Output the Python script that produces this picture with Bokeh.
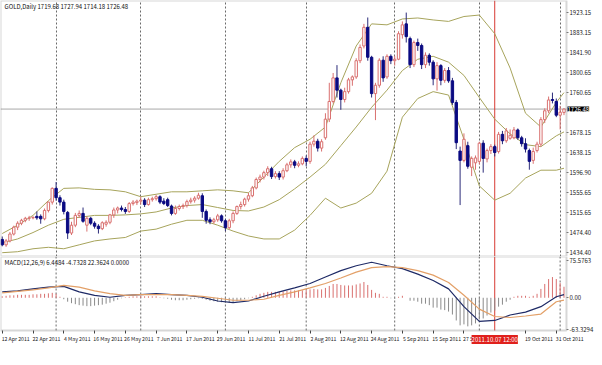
from bokeh.plotting import figure
from bokeh.layouts import column
from bokeh.models import Range1d, FixedTicker, ColumnDataSource, Label, BoxAnnotation
from bokeh.embed import file_html
from bokeh.resources import INLINE

# ---------------- data ----------------
opens = [1461, 1450, 1458, 1472, 1486, 1494, 1500, 1504, 1505, 1508, 1508, 1503, 1520, 1537, 1565, 1546, 1537, 1516, 1474, 1490,
         1510, 1514, 1490, 1504, 1494, 1488, 1483, 1492, 1496, 1511, 1521, 1525, 1522, 1518, 1534, 1536, 1539, 1541, 1532, 1542,
         1544, 1548, 1539, 1542, 1529, 1514, 1524, 1528, 1530, 1538, 1541, 1545, 1550, 1518, 1501, 1497, 1501, 1509, 1499, 1485,
         1499, 1514, 1528, 1532, 1543, 1550, 1566, 1583, 1588, 1597, 1605, 1589, 1595, 1588, 1601, 1613, 1619, 1612, 1615, 1626,
         1620, 1655, 1661, 1647, 1668, 1706, 1742, 1790, 1765, 1746, 1762, 1786, 1792, 1825, 1855, 1893, 1832, 1758, 1775, 1826,
         1792, 1834, 1825, 1828, 1878, 1900, 1870, 1817, 1862, 1856, 1817, 1836, 1822, 1788, 1815, 1785, 1805, 1784, 1740, 1641,
         1622, 1652, 1608, 1617, 1620, 1657, 1625, 1642, 1650, 1640, 1675, 1662, 1667, 1668, 1684, 1668, 1656, 1642, 1622, 1642,
         1655, 1705, 1723, 1746, 1742, 1714, 1719.68]
highs = [1467, 1462, 1476, 1489, 1498, 1503, 1507, 1509, 1508, 1518, 1512, 1524, 1538, 1567, 1578, 1551, 1542, 1519, 1497, 1515,
         1520, 1526, 1508, 1507, 1498, 1492, 1498, 1500, 1513, 1526, 1528, 1530, 1527, 1537, 1541, 1542, 1548, 1545, 1546, 1548,
         1552, 1551, 1545, 1546, 1532, 1530, 1532, 1534, 1542, 1546, 1549, 1556, 1555, 1522, 1506, 1505, 1513, 1512, 1503, 1503,
         1518, 1530, 1538, 1546, 1556, 1570, 1587, 1593, 1601, 1610, 1609, 1600, 1600, 1606, 1617, 1624, 1623, 1620, 1630, 1632,
         1660, 1673, 1666, 1665, 1718, 1780, 1800, 1816, 1768, 1770, 1790, 1795, 1830, 1858, 1900, 1913, 1835, 1780, 1830, 1834,
         1838, 1838, 1835, 1885, 1905, 1923, 1874, 1866, 1870, 1860, 1842, 1840, 1826, 1822, 1818, 1810, 1812, 1790, 1745, 1650,
         1677, 1660, 1630, 1632, 1660, 1663, 1646, 1655, 1654, 1680, 1682, 1688, 1685, 1690, 1687, 1672, 1667, 1646, 1648, 1660,
         1710, 1728, 1752, 1760, 1748, 1733, 1727.94]
lows = [1447, 1446, 1455, 1469, 1480, 1490, 1496, 1499, 1502, 1501, 1493, 1500, 1516, 1532, 1540, 1530, 1512, 1462, 1470, 1486,
        1505, 1495, 1477, 1490, 1483, 1473, 1480, 1487, 1492, 1505, 1514, 1518, 1513, 1515, 1530, 1531, 1532, 1527, 1530, 1538,
        1540, 1533, 1531, 1527, 1510, 1511, 1520, 1523, 1526, 1534, 1536, 1542, 1505, 1493, 1492, 1493, 1497, 1495, 1478, 1482,
        1494, 1511, 1522, 1528, 1538, 1547, 1563, 1577, 1583, 1590, 1584, 1585, 1582, 1583, 1598, 1607, 1606, 1608, 1612, 1610,
        1615, 1650, 1640, 1640, 1664, 1700, 1738, 1750, 1725, 1740, 1758, 1774, 1788, 1820, 1850, 1825, 1750, 1704, 1770, 1782,
        1788, 1818, 1815, 1826, 1870, 1862, 1810, 1812, 1845, 1808, 1810, 1815, 1775, 1764, 1775, 1780, 1780, 1735, 1645, 1531,
        1618, 1605, 1590, 1603, 1614, 1597, 1618, 1635, 1630, 1636, 1655, 1658, 1664, 1665, 1664, 1650, 1638, 1603, 1615, 1638,
        1650, 1698, 1718, 1738, 1710, 1685, 1714.18]
closes = [1450, 1458, 1472, 1486, 1494, 1500, 1504, 1505, 1506, 1505, 1503, 1520, 1537, 1565, 1546, 1537, 1518, 1474, 1490, 1510,
          1514, 1498, 1504, 1494, 1488, 1483, 1495, 1496, 1511, 1521, 1525, 1522, 1518, 1534, 1537, 1539, 1541, 1532, 1542, 1544,
          1548, 1537, 1534, 1530, 1514, 1524, 1528, 1530, 1538, 1541, 1545, 1551, 1518, 1500, 1497, 1501, 1509, 1499, 1485, 1499,
          1514, 1528, 1532, 1543, 1550, 1566, 1583, 1588, 1597, 1605, 1589, 1595, 1588, 1601, 1613, 1619, 1612, 1615, 1626, 1620,
          1655, 1661, 1647, 1660, 1706, 1742, 1790, 1765, 1746, 1762, 1786, 1792, 1825, 1852, 1893, 1832, 1758, 1775, 1826, 1790,
          1834, 1825, 1828, 1880, 1898, 1874, 1817, 1862, 1856, 1817, 1836, 1822, 1788, 1815, 1785, 1805, 1784, 1740, 1658, 1622,
          1665, 1610, 1626, 1627, 1657, 1626, 1642, 1650, 1638, 1675, 1662, 1682, 1673, 1684, 1668, 1656, 1645, 1620, 1640, 1655,
          1705, 1723, 1745, 1744, 1714, 1720, 1726.48]

# Bollinger bands (20,2) read every 4th bar
band_bar = [0, 4, 8, 12, 16, 20, 24, 28, 32, 36, 40, 44, 48, 52, 56, 60, 64, 68, 72, 76,
            80, 84, 88, 92, 96, 100, 104, 108, 112, 116, 120, 124, 128, 132, 136, 140, 144, 146]
band_upper = [1473, 1490, 1510, 1540, 1565, 1566, 1563, 1562, 1558, 1548, 1553, 1558, 1558, 1560, 1562, 1560, 1556, 1588, 1620, 1648,
              1665, 1690, 1780, 1855, 1900, 1898, 1910, 1912, 1908, 1905, 1915, 1918, 1880, 1810, 1718, 1690, 1740, 1760]
band_mid = [1454, 1462, 1475, 1490, 1502, 1506, 1510, 1510, 1511, 1513, 1517, 1525, 1530, 1532, 1526, 1520, 1519, 1527, 1542, 1564,
            1588, 1614, 1652, 1690, 1730, 1765, 1805, 1828, 1834, 1822, 1795, 1750, 1706, 1676, 1654, 1650, 1672, 1680]
band_lower = [1434, 1436, 1442, 1445, 1442, 1450, 1458, 1462, 1465, 1478, 1482, 1492, 1500, 1500, 1490, 1478, 1468, 1462, 1462, 1480,
              1510, 1545, 1525, 1535, 1555, 1600, 1710, 1748, 1762, 1755, 1665, 1570, 1541, 1555, 1586, 1602, 1602, 1606]

# MACD(12,26,9) lines read every 4th bar, histogram read per bar
macd_main = [12, 14, 18, 21.5, 23, 12, 5, 1, 5, 6.5, 8.5, 6.5, 5, 1, -6.5, -10, -6.5, 3, 12, 20,
             29, 42, 55, 65, 72, 65, 59, 48, 35, 18, -18, -48, -46, -35, -29, -18, 2, 6.4484]
macd_signal = [10, 13, 16, 20, 25, 21.5, 14, 8.5, 5, 6.5, 6.5, 6.5, 5, 3, -1, -5, -5, -3, 5, 12,
               20, 29, 40, 52, 61, 63, 61, 55, 46, 31, 5, -23, -38, -40, -37, -33, -8, -4.7328]
macd_hist = [3, 4, 5, 5, 6, 6, 6, 6, 7, 7, 8, 8, 9, 10, 8, 2, -3, -8, -11, -13,
             -15, -16, -17, -17, -16, -15, -14, -12, -10, -7, -4, -1, 1, 2, 3, 3, 4, 3, 3, 3,
             3, 1, -1, -2, -4, -5, -5, -5, -4, -3, -2, -1, -2, -4, -6, -7, -8, -9, -10, -10,
             -9, -7, -5, -3, -1, 2, 5, 8, 10, 12, 12, 12, 12, 13, 14, 15, 15, 15, 15, 15,
             17, 18, 17, 17, 20, 24, 28, 28, 26, 25, 25, 25, 27, 29, 32, 26, 16, 10, 8, 2,
             2, -1, -2, 2, 4, 0, -6, -6, -8, -12, -12, -15, -20, -20, -24, -25, -28, -34, -46, -56,
             -54, -58, -56, -52, -44, -42, -36, -30, -26, -18, -14, -8, -4, 2, 4, 4, 4, 2, 4, 8,
             18, 28, 38, 42, 38, 30, 22.3624]

date_bar = [0, 8, 16, 24, 32, 40, 48, 56, 64, 72, 80, 88, 96, 104, 112, 120, 136, 144]
date_text = ["12 Apr 2011", "22 Apr 2011", "4 May 2011", "16 May 2011", "26 May 2011", "7 Jun 2011",
             "17 Jun 2011", "29 Jun 2011", "11 Jul 2011", "21 Jul 2011", "2 Aug 2011", "12 Aug 2011",
             "24 Aug 2011", "5 Sep 2011", "15 Sep 2011", "27 Sep 2011", "19 Oct 2011", "31 Oct 2011"]
month_bar = [14, 36, 58, 79, 102, 124, 145]
price_ticks = [1434.40, 1474.40, 1515.65, 1555.65, 1596.90, 1638.15, 1678.15, 1760.65, 1800.65, 1841.90, 1883.15, 1923.15]
macd_ticks = [-63.3294, 0.0, 75.5763]
last_price = 1726.48
cross_bar = 128
cross_text = "2011.10.07 12:00"

# ---------------- geometry / styling ----------------
FONT = "Noto Sans CJK SC"
UP = "#d9706f"
DOWN = "#0a0a82"
BAND = "#a7a45c"
FRAME = "#7a7a7a"
X_LO, X_EDGE, X_HI = -0.45, 146.65, 153.93          # bars area ends at X_EDGE, price scale beyond
P_LO, P_HI = 1426.25, 1947.6
M_HI, M_LO, M_BOTTOM = 83.69, -66.37, -104.9

n = len(closes)
idx = list(range(n))
up = [c >= o for o, c in zip(opens, closes)]
dn = [not u for u in up]


def sub(lst, mask):
    return [v for v, m in zip(lst, mask) if m]


src_up = ColumnDataSource(dict(x=sub(idx, up), o=sub(opens, up), h=sub(highs, up), l=sub(lows, up), c=sub(closes, up)))
src_dn = ColumnDataSource(dict(x=sub(idx, dn), o=sub(opens, dn), h=sub(highs, dn), l=sub(lows, dn), c=sub(closes, dn)))

xr = Range1d(X_LO, X_HI)

p1 = figure(width=594, height=256, x_range=xr, y_range=Range1d(P_LO, P_HI),
            y_axis_location="right", x_axis_location=None, min_border=0,
            output_backend="svg", toolbar_location=None)
p2 = figure(width=594, height=93, x_range=xr, y_range=Range1d(M_BOTTOM, M_HI),
            y_axis_location="right", x_axis_location="below", min_border=0,
            output_backend="svg", toolbar_location=None)


def style_yaxis(p, lo, hi):
    ax = p.yaxis[0]
    ax.fixed_location = X_EDGE
    ax.bounds = (lo, hi)
    ax.axis_line_color = None
    ax.major_tick_line_color = FRAME
    ax.minor_tick_line_color = None
    ax.major_tick_out = 2
    ax.major_tick_in = 0
    ax.major_label_standoff = 1
    ax.major_label_text_font = FONT
    ax.major_label_text_font_size = "6px"
    ax.major_label_text_color = "#1a1a1a"


for p in (p1, p2):
    p.outline_line_color = None
    p.background_fill_color = "white"
    p.border_fill_color = "white"
    p.ygrid.visible = False

# ---- price panel ----
p1.xgrid.ticker = FixedTicker(ticks=month_bar)
p1.xgrid.grid_line_color = "#6a6a6a"
p1.xgrid.grid_line_dash = "2 2"
style_yaxis(p1, P_LO, P_HI)
p1.yaxis[0].ticker = FixedTicker(ticks=price_ticks)
p1.yaxis[0].major_label_overrides = {t: "%.2f" % t for t in price_ticks}

p1.segment(x0=[X_LO], x1=[X_EDGE], y0=[last_price], y1=[last_price], line_color="#a8a8a8", line_width=1)
p1.segment(x0=[cross_bar], x1=[cross_bar], y0=[P_LO], y1=[P_HI], line_color="#d83a32", line_width=1)

for arr in (band_upper, band_mid, band_lower):
    p1.line(band_bar, arr, line_color=BAND, line_width=1)

p1.segment(x0="x", y0="l", x1="x", y1="h", source=src_up, line_color=UP, line_width=1)
p1.segment(x0="x", y0="l", x1="x", y1="h", source=src_dn, line_color="#2b2b7a", line_width=1)
p1.vbar(x="x", width=0.62, top="c", bottom="o", source=src_up, fill_color="white", line_color=UP, line_width=1)
p1.vbar(x="x", width=0.62, top="o", bottom="c", source=src_dn, fill_color=DOWN, line_color=DOWN, line_width=1)

p1.add_layout(BoxAnnotation(left=X_LO, right=X_EDGE, fill_alpha=0, line_color=FRAME, line_width=2))
p1.add_layout(Label(x=0.6, y=1935.4, text="GOLD,Daily  1719.68 1727.94 1714.18 1726.48",
                    text_font=FONT, text_font_size="6px", text_color="#101010", text_baseline="middle"))
p1.add_layout(Label(x=X_EDGE, y=last_price, x_offset=1, text="%.2f" % last_price, text_font=FONT,
                    text_font_size="6px", text_color="white", text_baseline="middle",
                    background_fill_color="#000000"))

# ---- MACD panel ----
p2.xgrid.visible = False
k = len(month_bar)
p2.segment(x0=month_bar, x1=month_bar, y0=[M_LO] * k, y1=[M_HI] * k,
           line_color="#6a6a6a", line_dash="2 2", line_width=1)
p2.segment(x0=[cross_bar], x1=[cross_bar], y0=[M_LO], y1=[M_HI], line_color="#d83a32", line_width=1)

hist_col = [UP if v >= 0 else "#8a8a8a" for v in macd_hist]
src_h = ColumnDataSource(dict(x=idx, h=macd_hist, z=[0] * n, col=hist_col))
p2.segment(x0="x", y0="z", x1="x", y1="h", source=src_h, line_color="col", line_width=1)
p2.line(band_bar, macd_main, line_color="#1e2a66", line_width=1.2)
p2.line(band_bar, macd_signal, line_color="#e3a068", line_width=1.2)

style_yaxis(p2, M_LO, M_HI)
p2.yaxis[0].ticker = FixedTicker(ticks=macd_ticks)
p2.yaxis[0].major_label_overrides = {-63.3294: "-63.3294", 0.0: "0.00", 75.5763: "75.5763"}

xa = p2.xaxis[0]
xa.fixed_location = M_LO
xa.bounds = (X_LO, X_EDGE)
xa.ticker = FixedTicker(ticks=[b + 3.5 for b in date_bar], minor_ticks=date_bar)
xa.major_label_overrides = {b + 3.5: t for b, t in zip(date_bar, date_text)}
xa.axis_line_color = None
xa.major_tick_line_color = None
xa.major_tick_out = 0
xa.major_tick_in = 0
xa.minor_tick_out = 3
xa.minor_tick_in = 0
xa.minor_tick_line_color = "#404040"
xa.major_label_standoff = 2
xa.major_label_text_font = FONT
xa.major_label_text_font_size = "5.2px"
xa.major_label_text_color = "#1a1a1a"

p2.add_layout(BoxAnnotation(left=X_LO, right=X_EDGE, bottom=M_LO, fill_alpha=0, line_color=FRAME, line_width=2))
p2.add_layout(Label(x=0.6, y=71.5, text="MACD(12,26,9) 6.4484 -4.7328 22.3624 0.0000",
                    text_font=FONT, text_font_size="6px", text_color="#101010", text_baseline="middle"))
p2.add_layout(Label(x=cross_bar, y=M_LO, y_offset=-9, text=cross_text, text_font=FONT,
                    text_font_size="6px", text_color="white", text_align="center", text_baseline="middle",
                    background_fill_color="#e0201c"))

layout = column(p1, p2, spacing=0)
open("out.html", "w").write(file_html(layout, INLINE))
